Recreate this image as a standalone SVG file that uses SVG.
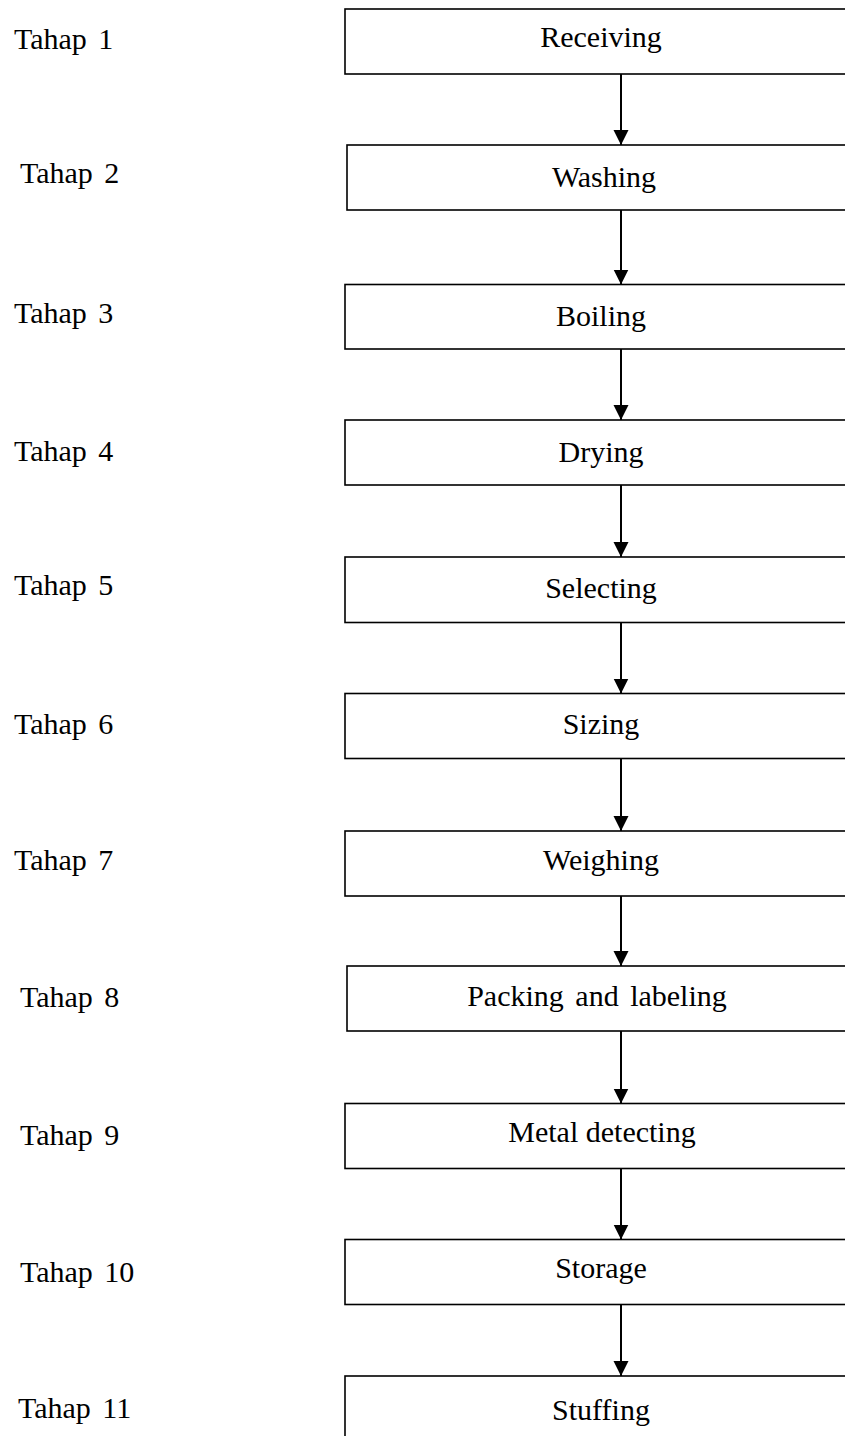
<svg xmlns="http://www.w3.org/2000/svg" width="845" height="1436" viewBox="0 0 845 1436">
<style>
.box{fill:#fff;stroke:#000;stroke-width:1.6}
.t{font-family:"Liberation Serif","Times New Roman",serif;font-size:30px;fill:#000}
.c{text-anchor:middle}
.lbl{word-spacing:4px}
.ln{stroke:#000;stroke-width:2;fill:none}
</style>
<defs>
<marker id="ah" markerUnits="userSpaceOnUse" markerWidth="16" markerHeight="17" refX="15" refY="7.5" orient="auto">
<path d="M0,0 L15,7.5 L0,15 Z" fill="#000"/>
</marker>
</defs>
<rect width="845" height="1436" fill="#fff"/>
<g id="labels">
<text class="t lbl" x="14" y="49">Tahap 1</text>
<text class="t lbl" x="20" y="183">Tahap 2</text>
<text class="t lbl" x="14" y="323">Tahap 3</text>
<text class="t lbl" x="14" y="461">Tahap 4</text>
<text class="t lbl" x="14" y="595">Tahap 5</text>
<text class="t lbl" x="14" y="734">Tahap 6</text>
<text class="t lbl" x="14" y="870">Tahap 7</text>
<text class="t lbl" x="20" y="1007">Tahap 8</text>
<text class="t lbl" x="20" y="1145">Tahap 9</text>
<text class="t lbl" x="20" y="1282">Tahap 10</text>
<text class="t lbl" x="18" y="1418">Tahap 11</text>
</g>
<g id="connectors">
<line class="ln" x1="621" y1="74" x2="621" y2="145" marker-end="url(#ah)"/>
<line class="ln" x1="621" y1="210" x2="621" y2="284.5" marker-end="url(#ah)"/>
<line class="ln" x1="621" y1="349" x2="621" y2="420" marker-end="url(#ah)"/>
<line class="ln" x1="621" y1="485" x2="621" y2="557" marker-end="url(#ah)"/>
<line class="ln" x1="621" y1="622.5" x2="621" y2="693.5" marker-end="url(#ah)"/>
<line class="ln" x1="621" y1="758.5" x2="621" y2="831" marker-end="url(#ah)"/>
<line class="ln" x1="621" y1="896" x2="621" y2="966" marker-end="url(#ah)"/>
<line class="ln" x1="621" y1="1031" x2="621" y2="1103.5" marker-end="url(#ah)"/>
<line class="ln" x1="621" y1="1168.5" x2="621" y2="1239.5" marker-end="url(#ah)"/>
<line class="ln" x1="621" y1="1304.5" x2="621" y2="1376" marker-end="url(#ah)"/>
</g>
<g id="n1"><rect class="box" x="345" y="9" width="520" height="65"/><text class="t c" x="601" y="47">Receiving</text></g>
<g id="n2"><rect class="box" x="347" y="145" width="520" height="65"/><text class="t c" x="604" y="187">Washing</text></g>
<g id="n3"><rect class="box" x="345" y="284.5" width="520" height="64.5"/><text class="t c" x="601" y="326">Boiling</text></g>
<g id="n4"><rect class="box" x="345" y="420" width="520" height="65"/><text class="t c" x="601" y="462">Drying</text></g>
<g id="n5"><rect class="box" x="345" y="557" width="520" height="65.5"/><text class="t c" x="601" y="598">Selecting</text></g>
<g id="n6"><rect class="box" x="345" y="693.5" width="520" height="65"/><text class="t c" x="601" y="734">Sizing</text></g>
<g id="n7"><rect class="box" x="345" y="831" width="520" height="65"/><text class="t c" x="601" y="870">Weighing</text></g>
<g id="n8"><rect class="box" x="347" y="966" width="520" height="65"/><text class="t c" x="597" y="1006" style="word-spacing:4px">Packing and labeling</text></g>
<g id="n9"><rect class="box" x="345" y="1103.5" width="520" height="65"/><text class="t c" x="602" y="1142">Metal detecting</text></g>
<g id="n10"><rect class="box" x="345" y="1239.5" width="520" height="65"/><text class="t c" x="601" y="1278">Storage</text></g>
<g id="n11"><rect class="box" x="345" y="1376" width="520" height="70"/><text class="t c" x="601" y="1420">Stuffing</text></g>
</svg>
